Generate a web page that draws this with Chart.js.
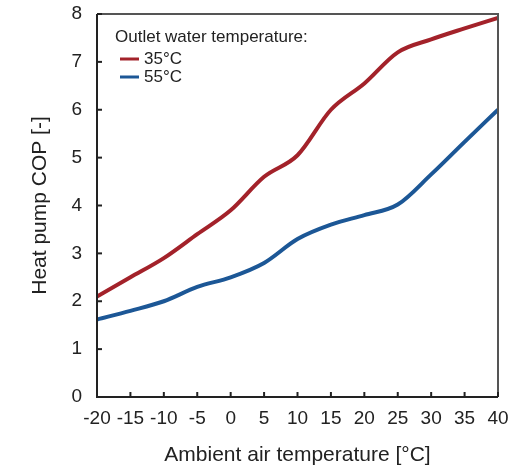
<!DOCTYPE html>
<html>
<head>
<meta charset="utf-8">
<script src="https://cdn.jsdelivr.net/npm/chart.js@4"></script>
<style>
  html, body { margin: 0; padding: 0; background: #fff; }
  #wrap { width: 520px; height: 468px; }
</style>
</head>
<body>
<div id="wrap"><canvas id="graph" width="520" height="468"></canvas></div>
<script>
// ambient air temperature [°C]
const temps = [-20, -15, -10, -5, 0, 5, 10, 15, 20, 25, 30, 35, 40];
// COP for outlet water 35°C
const cop35 = [2.1, 2.5, 2.9, 3.4, 3.9, 4.6, 5.05, 6.0, 6.55, 7.2, 7.47, 7.7, 7.92];
// COP for outlet water 55°C
const cop55 = [1.62, 1.8, 2.0, 2.3, 2.5, 2.8, 3.3, 3.6, 3.8, 4.02, 4.65, 5.33, 6.0];
const xTicks = [-20, -15, -10, -5, 0, 5, 10, 15, 20, 25, 30, 35, 40];
const yTicks = [0, 1, 2, 3, 4, 5, 6, 7, 8];
const legendTitle = 'Outlet water temperature:';

const FONT = 'Liberation Sans, Arial, sans-serif';

//---------------------------------------------
// frame + inward ticks + legend inside the plot
const framePlugin = {
  id: 'frame',
  afterDraw(chart) {
    const {ctx, chartArea: a, scales} = chart;
    ctx.save();
    ctx.lineWidth = 2;
    ctx.beginPath();
    ctx.moveTo(a.left, a.top); ctx.lineTo(a.right, a.top); ctx.lineTo(a.right, a.bottom);
    ctx.strokeStyle = '#555';
    ctx.stroke();
    ctx.strokeStyle = '#222';
    ctx.beginPath();
    ctx.moveTo(a.left, a.top); ctx.lineTo(a.left, a.bottom); ctx.lineTo(a.right, a.bottom);
    ctx.stroke();
    xTicks.forEach(v => {
      const x = scales.x.getPixelForValue(v);
      ctx.beginPath(); ctx.moveTo(x, a.bottom); ctx.lineTo(x, a.bottom - 5); ctx.stroke();
    });
    yTicks.forEach(v => {
      const y = scales.y.getPixelForValue(v);
      ctx.beginPath(); ctx.moveTo(a.left, y); ctx.lineTo(a.left + 5, y); ctx.stroke();
    });

    // legend
    const lx = a.left + 18, ly = a.top + 23;
    ctx.font = '17px ' + FONT;
    ctx.fillStyle = '#222';
    ctx.textBaseline = 'middle';
    ctx.textAlign = 'left';
    ctx.fillText(legendTitle, lx, ly);
    chart.data.datasets.forEach((ds, i) => {
      const y = ly + 22 + i * 18;
      ctx.strokeStyle = ds.borderColor;
      ctx.lineWidth = 3;
      ctx.beginPath(); ctx.moveTo(lx + 5, y); ctx.lineTo(lx + 24, y); ctx.stroke();
      ctx.fillStyle = '#222';
      ctx.fillText(ds.label, lx + 29, y);
    });
    ctx.restore();
  }
};

const cfg = {
  type: 'line',
  data: {
    datasets: [
      {
        label: '35°C',
        data: temps.map((t, i) => ({x: t, y: cop35[i]})),
        borderColor: '#a3222a',
        borderWidth: 4,
        pointRadius: 0,
        cubicInterpolationMode: 'monotone',
        fill: false
      },
      {
        label: '55°C',
        data: temps.map((t, i) => ({x: t, y: cop55[i]})),
        borderColor: '#1c5796',
        borderWidth: 4,
        pointRadius: 0,
        cubicInterpolationMode: 'monotone',
        fill: false
      }
    ]
  },
  options: {
    responsive: false,
    animation: false,
    layout: { padding: { top: 14, right: 22, left: 28, bottom: 0 } },
    plugins: { legend: { display: false }, tooltip: { enabled: false } },
    scales: {
      x: {
        type: 'linear',
        min: -20, max: 40,
        afterBuildTicks: s => { s.ticks = xTicks.map(v => ({value: v})); },
        afterFit: s => { s.height = 71; s.paddingLeft = 0; s.paddingRight = 0; },
        grid: { display: false, drawTicks: false },
        border: { display: false },
        ticks: { color: '#222', font: { family: FONT, size: 19 }, padding: 10, maxRotation: 0, autoSkip: false },
        title: { display: true, text: 'Ambient air temperature [°C]', color: '#222',
                 font: { family: FONT, size: 21 }, padding: { top: 8, bottom: 0 } }
      },
      y: {
        min: 0, max: 8,
        afterBuildTicks: s => { s.ticks = yTicks.map(v => ({value: v})); },
        afterFit: s => { s.width = 69; s.paddingTop = 0; s.paddingBottom = 0; },
        grid: { display: false, drawTicks: false },
        border: { display: false },
        ticks: { color: '#222', font: { family: FONT, size: 19 }, padding: 15 },
        title: { display: true, text: 'Heat pump COP [-]', color: '#222',
                 font: { family: FONT, size: 21 }, padding: { top: 0, bottom: 0 } }
      }
    }
  },
  plugins: [framePlugin]
};

new Chart(document.getElementById('graph'), cfg);
</script>
</body>
</html>
